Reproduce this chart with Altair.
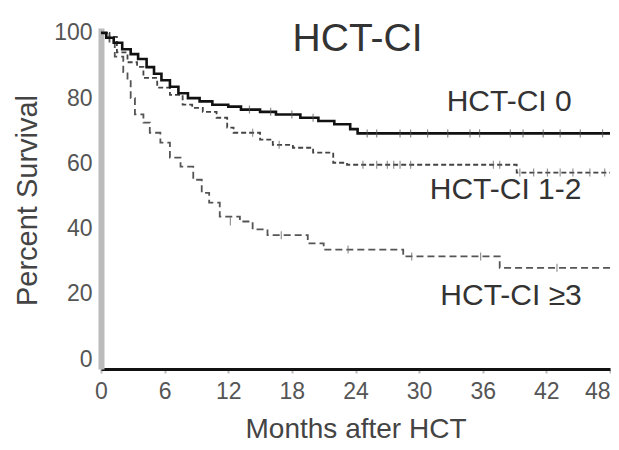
import altair as alt
import pandas as pd

# ---- Kaplan-Meier curves (months, percent survival) ----
t_ci0 = [0, 0.5, 1.2, 2.0, 2.8, 3.5, 4.3, 5.0, 5.7, 6.5, 7.3, 8.2, 9.3, 10.5, 12.0, 13.2, 15.0, 16.5, 18.8, 20.5, 22.0, 23.5, 24.2, 48]
s_ci0 = [100, 98.5, 97, 95, 93.5, 92, 89.5, 87.5, 85.5, 83.5, 81.5, 80, 79, 78, 77.4, 76.5, 75.8, 75, 74, 73, 72, 70.5, 69.2, 69.2]

t_ci12 = [0, 0.8, 1.5, 2.5, 3.4, 4.0, 5.3, 6.5, 7.7, 8.6, 9.6, 10.9, 11.9, 12.5, 13.8, 15.0, 16.2, 18.1, 20.0, 21.9, 23.2, 39.2, 48]
s_ci12 = [100, 98.8, 94, 91, 89.6, 86.2, 83.2, 81, 78, 77, 75.8, 74, 71, 69.4, 69.4, 67.3, 65.7, 64.8, 63.3, 60.2, 59.6, 57.2, 57.2]

t_ci3 = [0, 0.8, 1.3, 2.1, 2.5, 2.8, 3.2, 4.0, 4.6, 5.6, 6.5, 7.5, 8.7, 9.5, 10.2, 11.2, 13.1, 14.3, 15.7, 19.5, 21.0, 28.5, 37.6, 48]
s_ci3 = [100, 97, 92.7, 88, 85.6, 80, 75, 72.5, 69.4, 66.4, 61.8, 59, 55, 51, 48, 43.7, 42.2, 39.8, 38, 35.5, 33.6, 31.5, 28, 28]

# ---- censoring marks ----
c0_t = [14.0, 16.0, 18.0, 20.0, 25.1, 26.0, 28.2, 29.2, 30.8, 32.7, 34.8, 35.7, 38.6, 39.8, 41.7, 43.3, 45.2, 47.3]
c0_s = [76.5, 75.8, 75, 74, 69.2, 69.2, 69.2, 69.2, 69.2, 69.2, 69.2, 69.2, 69.2, 69.2, 69.2, 69.2, 69.2, 69.2]

c12_t = [14.3, 16.8, 24.7, 26.0, 27.0, 27.6, 28.2, 29.2, 37.0, 37.6, 39.5, 40.8, 42.1, 43.3, 44.5, 46.1, 47.5]
c12_s = [69.4, 65.7, 59.6, 59.6, 59.6, 59.6, 59.6, 59.6, 59.6, 59.6, 57.2, 57.2, 57.2, 57.2, 57.2, 57.2, 57.2]

c3_t = [12.2, 17.0, 23.3, 29.3, 35.8, 43.0]
c3_s = [42.2, 38, 33.6, 31.5, 31.5, 28]

# ---- annotations ----
lab_text = ["HCT-CI 0", "HCT-CI 1-2", "HCT-CI \u22653"]
lab_x = [32.6, 31.0, 32.0]
lab_y = [78.8, 51.9, 19.4]

title_text = ["HCT-CI"]
title_x = [24.2]
title_y = [98.0]

x_ticks = [0, 6, 12, 18, 24, 30, 36, 42, 48]
y_ticks = [0, 20, 40, 60, 80, 100]

FONT = "Liberation Sans"

xs = alt.Scale(domain=[0, 48], nice=False, zero=False)
ys = alt.Scale(domain=[-3, 101.5], nice=False, zero=False)

x_axis = alt.Axis(
    values=x_ticks, title="Months after HCT", grid=False,
    domainColor="#111111", domainWidth=3,
    tickColor="#bbbbbb", tickSize=4, tickWidth=2,
    labelFont=FONT, labelFontSize=23, labelColor="#555555", labelPadding=7,
    labelAlign=alt.expr("datum.value === 48 ? 'right' : 'center'"),
    titleFont=FONT, titleFontSize=28, titleFontWeight="normal", titleColor="#444444",
    titleBaseline="middle", titleY=60,
)
y_axis = alt.Axis(
    values=y_ticks, title="Percent Survival", grid=False,
    domainColor="#bbbbbb", domainWidth=6, ticks=False,
    labelFont=FONT, labelFontSize=23, labelColor="#555555", labelPadding=9,
    titleFont=FONT, titleFontSize=29, titleFontWeight="normal", titleColor="#444444",
    titleAngle=-90, titleBaseline="middle", titleAlign="center",
    titleX=-74, titleY=172,
)

def curve(t, s, color, width, dash=None):
    df = pd.DataFrame({"t": t, "s": s})
    kw = dict(interpolate="step-after", color=color, strokeWidth=width)
    if dash:
        kw["strokeDash"] = dash
    return alt.Chart(df).mark_line(**kw).encode(
        x=alt.X("t:Q", scale=xs, axis=x_axis),
        y=alt.Y("s:Q", scale=ys, axis=y_axis),
    )

def cens(t, s, color):
    df = pd.DataFrame({"t": t, "s": s})
    return alt.Chart(df).mark_tick(orient="vertical", color=color, size=8, thickness=1.2).encode(
        x=alt.X("t:Q", scale=xs), y=alt.Y("s:Q", scale=ys)
    )

lab_df = pd.DataFrame({"x": lab_x, "y": lab_y, "text": lab_text})
labels = alt.Chart(lab_df).mark_text(
    font=FONT, fontSize=30, color="#333333", align="left", baseline="middle"
).encode(x=alt.X("x:Q", scale=xs), y=alt.Y("y:Q", scale=ys), text="text:N")

ttl_df = pd.DataFrame({"x": title_x, "y": title_y, "text": title_text})
ttl = alt.Chart(ttl_df).mark_text(
    font=FONT, fontSize=39, color="#333333", align="center", baseline="middle"
).encode(x=alt.X("x:Q", scale=xs), y=alt.Y("y:Q", scale=ys), text="text:N")

chart = alt.layer(
    curve(t_ci3, s_ci3, "#555555", 1.8, [7, 4]),
    curve(t_ci12, s_ci12, "#444444", 1.8, [5, 3]),
    curve(t_ci0, s_ci0, "#111111", 2.6),
    cens(c3_t, c3_s, "#666666"),
    cens(c12_t, c12_s, "#666666"),
    cens(c0_t, c0_s, "#555555"),
    labels,
    ttl,
).properties(
    width=509, height=341,
    padding={"left": 93, "top": 20, "right": 1, "bottom": 73},
    autosize="none",
    background="white",
).configure_view(stroke=None)

chart.save("out.html", embed_options={"renderer": "svg", "actions": False})
